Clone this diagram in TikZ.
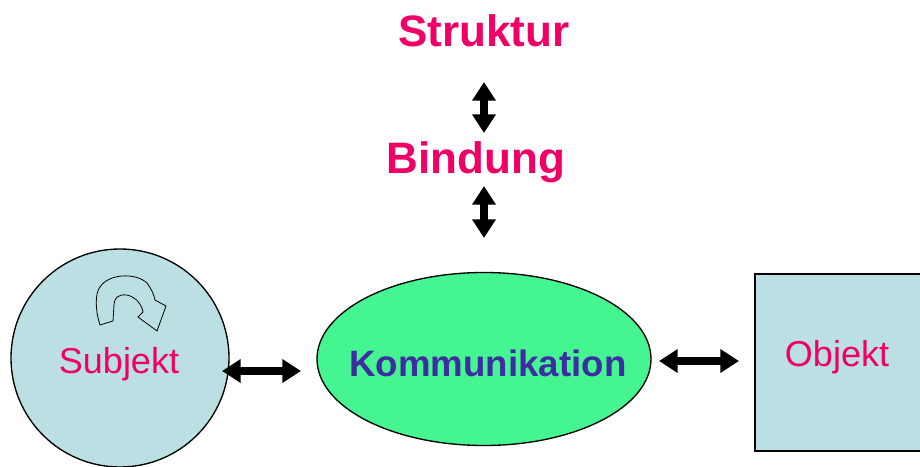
\documentclass[tikz,border=0pt]{standalone}
\usepackage{fontspec}
\setmainfont{Liberation Sans}
\usetikzlibrary{arrows.meta,shapes.geometric}
\definecolor{pinktxt}{RGB}{240,0,100}
\definecolor{bluetxt}{RGB}{60,45,160}
\definecolor{lightblue}{RGB}{187,223,226}
\definecolor{brightgreen}{RGB}{68,245,145}
\tikzset{
  dbl/.style={line width=6.3pt,{Triangle[length=14pt,width=17pt]}-{Triangle[length=14pt,width=17pt]}},
  title/.style={text=pinktxt,font=\fontsize{33}{36}\selectfont\bfseries,inner sep=0pt},
  lbl/.style={text=pinktxt,font=\fontsize{27}{30}\selectfont,inner sep=0pt}
}
\begin{document}
\begin{tikzpicture}[x=0.75pt,y=-0.75pt]
\useasboundingbox (0,0) rectangle (920,467);
\begin{scope}
\clip (0,0) rectangle (920,467);
% Subjekt circle
\node[circle,draw=black,line width=1pt,fill=lightblue,minimum size=218*0.75pt,inner sep=0pt] (subj) at (120,358) {};
% Objekt rect
\node[draw=black,line width=1.5pt,fill=lightblue,minimum width=180*0.75pt,minimum height=177*0.75pt,inner sep=0pt,anchor=north west] (obj) at (754,273) {};
\end{scope}
% Kommunikation ellipse
\node[ellipse,draw=black,line width=1pt,fill=brightgreen,minimum width=334*0.75pt,minimum height=173*0.75pt,inner sep=0pt] (komm) at (484,359) {};
% texts
\node[title] (struk) at (484,31) {Struktur};
\node[title] (bind) at (476,162) {Bindung};
\node[text=bluetxt,font=\fontsize{27.5}{30}\selectfont\bfseries,inner sep=0pt] (kommtxt) at (488,363) {Kommunikation};
\node[lbl] (subjtxt) at (119,364) {Subjekt};
\node[lbl] (objtxt) at (837,357) {Objekt};
% curved arrow inside circle
\draw[line width=0.6pt] (100,325) .. controls (95,310) and (95,293) .. (100,287)
  .. controls (108,274) and (135,272) .. (147,283)
  .. controls (152,290) and (154,295) .. (155,300)
  -- (166,306) -- (157,331) -- (138,317) -- (143,312)
  .. controls (142,305) and (136,297) .. (127,295)
  .. controls (118,294) and (114,298) .. (114,305)
  -- (113,321) -- cycle;
% connector coordinates
\coordinate (a1t) at (484,82);
\coordinate (a1b) at (484,133);
\coordinate (a2t) at (484,186);
\coordinate (a2b) at (484,238);
\coordinate (h1l) at (222,371);
\coordinate (h1r) at (301,371);
\coordinate (h2l) at (659,361);
\coordinate (h2r) at (739,361);
\draw[dbl] (a1t) -- (a1b);
\draw[dbl] (a2t) -- (a2b);
\draw[dbl] (h1l) -- (h1r);
\draw[dbl] (h2l) -- (h2r);
\end{tikzpicture}
\end{document}
